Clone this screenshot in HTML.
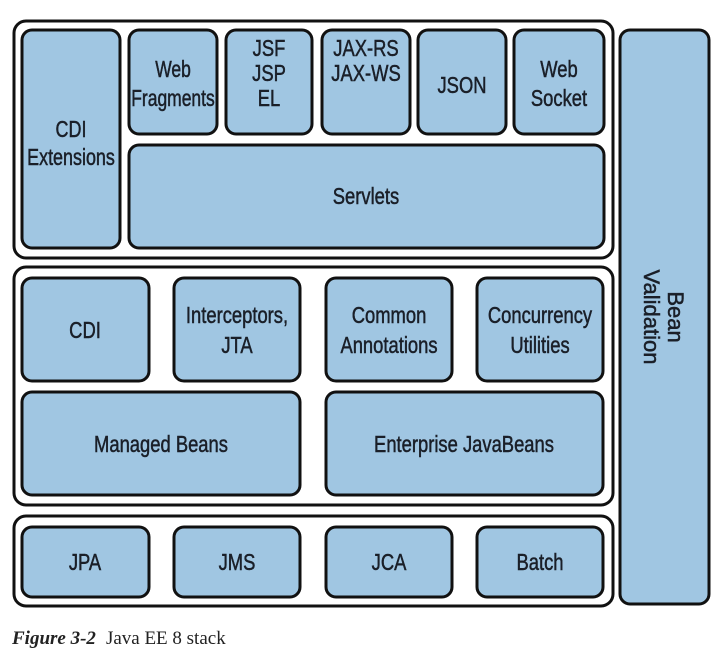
<!DOCTYPE html>
<html><head><meta charset="utf-8"><style>
html,body{margin:0;padding:0;background:#fff;width:727px;height:659px;overflow:hidden}
svg{display:block}
.f{fill:none;stroke:#111;stroke-width:3}
.b{fill:#a0c6e2;stroke:#111;stroke-width:3}
text{font-family:"Liberation Sans",sans-serif;font-size:23px;fill:#1a1f28;stroke:#1a1f28;stroke-width:0.5;text-anchor:middle}
</style></head><body>
<svg width="727" height="659" viewBox="0 0 727 659">
<rect class="f" x="14" y="21" width="599" height="237" rx="12"/>
<rect class="f" x="14" y="267" width="599" height="238" rx="12"/>
<rect class="f" x="14" y="516" width="599" height="90" rx="12"/>

<rect class="b" x="22" y="30" width="98" height="218" rx="10"/>
<rect class="b" x="129" y="30" width="88" height="104" rx="10"/>
<rect class="b" x="226" y="30" width="86" height="104" rx="10"/>
<rect class="b" x="322" y="30" width="88" height="104" rx="10"/>
<rect class="b" x="418" y="30" width="88" height="104" rx="10"/>
<rect class="b" x="514" y="30" width="90" height="104" rx="10"/>
<rect class="b" x="129" y="145" width="475" height="103" rx="10"/>

<rect class="b" x="22" y="278" width="127" height="103" rx="10"/>
<rect class="b" x="174" y="278" width="126" height="103" rx="10"/>
<rect class="b" x="326" y="278" width="126" height="103" rx="10"/>
<rect class="b" x="477" y="278" width="126" height="103" rx="10"/>
<rect class="b" x="22" y="392" width="278" height="103" rx="10"/>
<rect class="b" x="326" y="392" width="277" height="103" rx="10"/>

<rect class="b" x="22" y="527" width="127" height="70" rx="10"/>
<rect class="b" x="174" y="527" width="126" height="70" rx="10"/>
<rect class="b" x="326" y="527" width="126" height="70" rx="10"/>
<rect class="b" x="477" y="527" width="126" height="70" rx="10"/>

<rect class="b" x="620" y="30" width="89" height="574" rx="10"/>

<g transform="translate(71,0) scale(0.78,1)"><text y="137">CDI</text><text y="165">Extensions</text></g>
<g transform="translate(173,0) scale(0.76,1)"><text y="77">Web</text><text y="106">Fragments</text></g>
<g transform="translate(269,0) scale(0.8,1)"><text y="56">JSF</text><text y="81">JSP</text><text y="106">EL</text></g>
<g transform="translate(366,0) scale(0.8,1)"><text y="56">JAX-RS</text><text y="81">JAX-WS</text></g>
<g transform="translate(462,0) scale(0.8,1)"><text y="93">JSON</text></g>
<g transform="translate(559,0) scale(0.8,1)"><text y="77">Web</text><text y="106">Socket</text></g>
<g transform="translate(366,0) scale(0.8,1)"><text y="204">Servlets</text></g>

<g transform="translate(85,0) scale(0.8,1)"><text y="338">CDI</text></g>
<g transform="translate(237,0) scale(0.8,1)"><text y="323">Interceptors,</text><text y="353">JTA</text></g>
<g transform="translate(389,0) scale(0.8,1)"><text y="323">Common</text><text y="353">Annotations</text></g>
<g transform="translate(540,0) scale(0.8,1)"><text y="323">Concurrency</text><text y="353">Utilities</text></g>
<g transform="translate(161,0) scale(0.8,1)"><text y="452">Managed Beans</text></g>
<g transform="translate(464,0) scale(0.8,1)"><text y="452">Enterprise JavaBeans</text></g>

<g transform="translate(85,0) scale(0.8,1)"><text y="570">JPA</text></g>
<g transform="translate(237,0) scale(0.8,1)"><text y="570">JMS</text></g>
<g transform="translate(389,0) scale(0.8,1)"><text y="570">JCA</text></g>
<g transform="translate(540,0) scale(0.8,1)"><text y="570">Batch</text></g>

<g transform="translate(664,317) rotate(90)"><text x="0" y="-4" style="font-size:22px">Bean</text><text x="0" y="20" style="font-size:22px">Validation</text></g>

<text x="12" y="644" style="text-anchor:start;font-family:'Liberation Serif',serif;font-size:19px;fill:#222;stroke:none"><tspan font-weight="bold" font-style="italic">Figure 3-2</tspan><tspan dx="10">Java EE 8 stack</tspan></text>
</svg>
</body></html>
